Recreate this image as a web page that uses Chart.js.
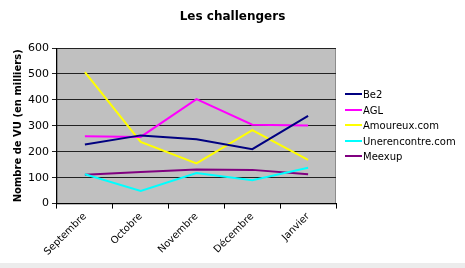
<!DOCTYPE html>
<html>
<head>
<meta charset="utf-8">
<script src="https://cdn.jsdelivr.net/npm/chart.js@4"></script>
<style>
  html, body { margin: 0; padding: 0; background: #fff; }
  #wrap { position: relative; width: 465px; height: 268px; }
  #band { position: absolute; left: 0; top: 263px; width: 465px; height: 5px; background: #ececec; }
  #chart { position: relative; }
  #title {
    position: absolute; left: 0; top: 9px; width: 465px; text-align: center;
    font: bold 12px "DejaVu Sans", Verdana, sans-serif; color: #000;
  }
  #legend {
    position: absolute; left: 345px; top: 87px;
    font: 10px "DejaVu Sans", Verdana, sans-serif; color: #000;
  }
  #legend .item { height: 15.6px; line-height: 15.6px; white-space: nowrap; }
  #legend .swatch {
    display: inline-block; width: 17px; height: 2px;
    vertical-align: middle; margin-right: 1px; position: relative; top: -1px;
  }
</style>
</head>
<body>
<div id="wrap">
  <div id="band"></div>
  <canvas id="chart"></canvas>
  <div id="title">Les challengers</div>
  <div id="legend"></div>
</div>
<script>
// Months (x categories)
const months = ['Septembre', 'Octobre', 'Novembre', 'Décembre', 'Janvier'];

// Visitors per site, in thousands
const be2 = [228, 263, 248, 210, 338];
const agl = [260, 257, 403, 304, 301];
const amoureux = [507, 238, 155, 283, 169];
const unerencontre = [113, 49, 118, 90, 138];
const meexup = [111, 122, 131, 130, 113];

const yTicks = [0, 100, 200, 300, 400, 500, 600];

const family = '"DejaVu Sans", Verdana, sans-serif';

// grey plot background with a thin border, like the old spreadsheet chart
const plotBackground = {
    id: 'plotBackground',
    beforeDraw(chart) {
        const { ctx, chartArea: a } = chart;
        ctx.save();
        ctx.fillStyle = '#c0c0c0';
        ctx.fillRect(a.left, a.top, a.right - a.left, a.bottom - a.top);
        ctx.strokeStyle = '#8c8c8c';
        ctx.lineWidth = 1;
        ctx.strokeRect(a.left + 0.5, a.top + 0.5, a.right - a.left - 1, a.bottom - a.top);
        ctx.restore();
    }
};

function series(label, data, color) {
    return {
        label,
        data,
        borderColor: color,
        backgroundColor: color,
        borderWidth: 2,
        pointRadius: 0,
        tension: 0
    };
}

const chart = new Chart(document.getElementById('chart'), {
    type: 'line',
    data: {
        labels: months,
        datasets: [
            series('Be2', be2, '#000080'),
            series('AGL', agl, '#ff00ff'),
            series('Amoureux.com', amoureux, '#ffff00'),
            series('Unerencontre.com', unerencontre, '#00ffff'),
            series('Meexup', meexup, '#800080')
        ]
    },
    options: {
        responsive: true,
        maintainAspectRatio: false,
        animation: false,
        layout: { padding: { top: 48, left: 12, right: 129, bottom: 8 } },
        plugins: {
            title: { display: false },
            legend: { display: false },
            tooltip: { enabled: false }
        },
        scales: {
            x: {
                offset: true,
                grid: {
                    offset: true,
                    drawOnChartArea: false,
                    drawTicks: true,
                    tickLength: 5,
                    color: '#000'
                },
                border: { color: '#000' },
                ticks: {
                    color: '#000',
                    font: { family, size: 10 },
                    maxRotation: 45,
                    minRotation: 45,
                    padding: 2
                }
            },
            y: {
                min: 0,
                max: 600,
                afterBuildTicks(axis) {
                    axis.ticks = yTicks.map(v => ({ value: v }));
                },
                grid: {
                    color: '#222',
                    lineWidth: 1,
                    tickLength: 5
                },
                border: { color: '#000' },
                ticks: { color: '#000', font: { family, size: 11 }, padding: 3 },
                title: {
                    display: true,
                    text: 'Nombre de VU (en milliers)',
                    color: '#000',
                    font: { family, size: 10, weight: 'bold' },
                    padding: { top: 0, bottom: 1 }
                }
            }
        }
    },
    plugins: [plotBackground]
});

// HTML legend built from the datasets
document.getElementById('legend').innerHTML = chart.data.datasets.map(ds =>
    `<div class="item"><span class="swatch" style="background:${ds.borderColor}"></span>${ds.label}</div>`
).join('');
</script>
</body>
</html>
